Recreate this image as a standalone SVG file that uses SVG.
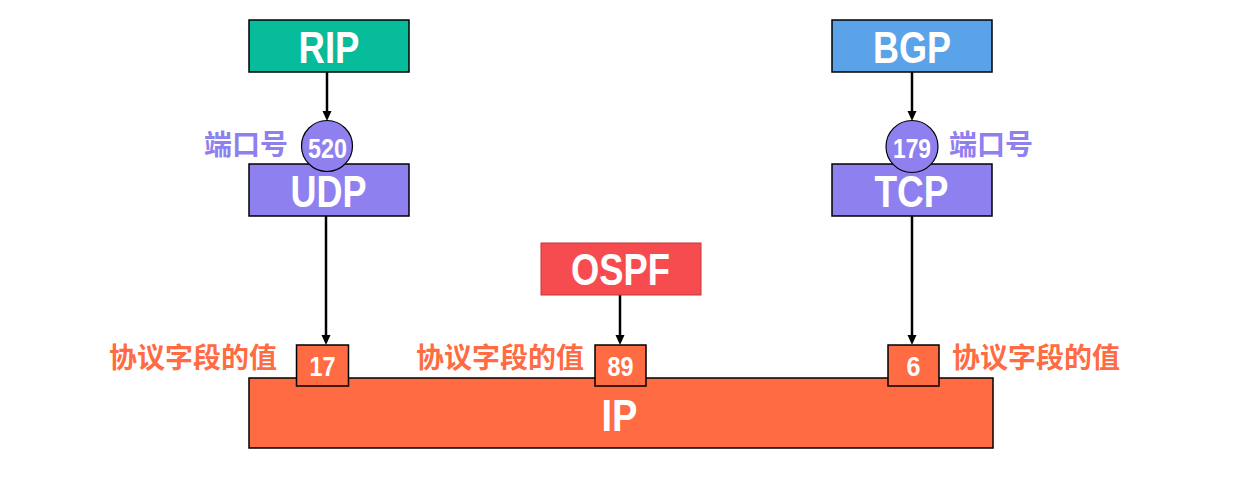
<svg xmlns="http://www.w3.org/2000/svg" width="1245" height="482" viewBox="0 0 1245 482">
<defs>
<marker id="arr" markerUnits="userSpaceOnUse" markerWidth="10" markerHeight="10" refX="4" refY="5" orient="auto" viewBox="0 0 10 10">
<path d="M0,0.5 L10,5 L0,9.5 z" fill="#000"/>
</marker>
<style>
.box{stroke:#000;stroke-width:1.5}
.title{font-family:"Liberation Sans Narrow","Liberation Sans",Arial,sans-serif;font-weight:bold;font-size:44px;fill:#fff;text-anchor:middle}
.num{font-family:"Liberation Sans Narrow","Liberation Sans",Arial,sans-serif;font-weight:bold;font-size:27px;fill:#fff;text-anchor:middle}
.cn{font-family:"Noto Sans CJK SC","Noto Sans CJK JP",sans-serif;font-weight:bold;font-size:28px;dominant-baseline:central}
.orange{fill:#FF6B42}
.purple{fill:#8F80F0}
.conn{stroke:#000;stroke-width:2.5;fill:none;marker-end:url(#arr)}
</style>
</defs>
<rect width="1245" height="482" fill="#fff"/>

<g id="connectors">
<line class="conn" x1="327" y1="72" x2="327" y2="115"/>
<line class="conn" x1="326" y1="216" x2="326" y2="339"/>
<line class="conn" x1="620" y1="295" x2="620" y2="339"/>
<line class="conn" x1="912" y1="72" x2="912" y2="115"/>
<line class="conn" x1="912" y1="216" x2="912" y2="339"/>
</g>

<g id="rip">
<rect class="box" x="249" y="20" width="160" height="52" fill="#06BC9A"/>
<text class="title" x="329" y="63" textLength="61" lengthAdjust="spacingAndGlyphs">RIP</text>
</g>
<g id="bgp">
<rect class="box" x="832" y="20" width="160" height="52" fill="#5BA3E8"/>
<text class="title" x="912" y="63" textLength="78" lengthAdjust="spacingAndGlyphs">BGP</text>
</g>
<g id="udp">
<rect class="box" x="249" y="164" width="160" height="52" fill="#8F80F0"/>
<text class="title" x="328.5" y="207" textLength="76" lengthAdjust="spacingAndGlyphs">UDP</text>
</g>
<g id="tcp">
<rect class="box" x="832" y="164" width="160" height="52" fill="#8F80F0"/>
<text class="title" x="911.5" y="207" textLength="74" lengthAdjust="spacingAndGlyphs">TCP</text>
</g>
<g id="port520">
<circle cx="327" cy="146" r="25.5" fill="#8F80F0" stroke="#000" stroke-width="1.2"/>
<text class="num" x="327.5" y="158" textLength="39" lengthAdjust="spacingAndGlyphs">520</text>
<text class="cn purple" x="204" y="143">端口号</text>
</g>
<g id="port179">
<circle cx="912" cy="146.5" r="26" fill="#8F80F0" stroke="#000" stroke-width="1.2"/>
<text class="num" x="912" y="158" textLength="38" lengthAdjust="spacingAndGlyphs">179</text>
<text class="cn purple" x="949" y="143">端口号</text>
</g>
<g id="ospf">
<rect x="541" y="243" width="160" height="52" fill="#F74C4F" stroke="#C0393B" stroke-width="1"/>
<text class="title" x="620.5" y="285" textLength="99" lengthAdjust="spacingAndGlyphs">OSPF</text>
</g>
<g id="ip">
<rect class="box" x="249" y="378" width="744" height="70" fill="#FF6B42"/>
<text class="title" x="619.5" y="431" font-size="45" textLength="36" lengthAdjust="spacingAndGlyphs">IP</text>
</g>
<g id="proto17">
<rect class="box" x="296.5" y="345" width="52" height="41" fill="#FF6B42"/>
<text class="num" x="322.5" y="376" textLength="26" lengthAdjust="spacingAndGlyphs">17</text>
<text class="cn orange" x="109" y="356">协议字段的值</text>
</g>
<g id="proto89">
<rect class="box" x="595" y="345" width="51" height="41" fill="#FF6B42"/>
<text class="num" x="620.5" y="375.5" textLength="26" lengthAdjust="spacingAndGlyphs">89</text>
<text class="cn orange" x="416" y="356">协议字段的值</text>
</g>
<g id="proto6">
<rect class="box" x="888" y="345" width="51" height="41" fill="#FF6B42"/>
<text class="num" x="913.5" y="376" textLength="14" lengthAdjust="spacingAndGlyphs">6</text>
<text class="cn orange" x="952" y="356">协议字段的值</text>
</g>
</svg>
